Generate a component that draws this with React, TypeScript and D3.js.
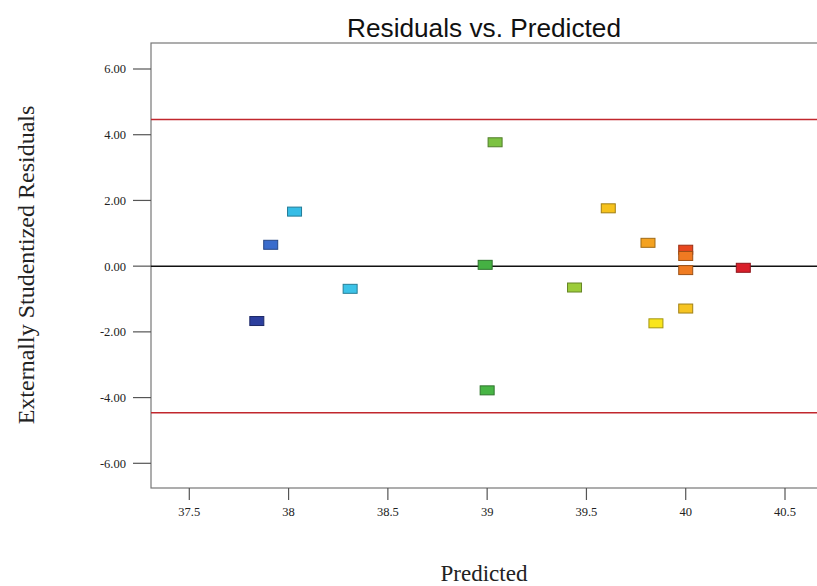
import React from "react";
import * as d3 from "d3";

// Predicted values and externally studentized residuals per run
const predicted = [37.84, 37.91, 38.03, 38.31, 39.04, 38.99, 39.0, 39.44, 39.61, 39.81, 40.0, 40.0, 40.0, 40.0, 39.85, 40.29];
const residuals = [-1.67, 0.65, 1.66, -0.69, 3.77, 0.04, -3.78, -0.65, 1.76, 0.71, 0.5, 0.31, -0.12, -1.29, -1.74, -0.05];
const pointColors = [
  "#2c3f9e", "#3a6ccc", "#36bde6", "#3cc3e8", "#7cc242", "#45b143", "#48b545", "#9ccc3a",
  "#f6c21c", "#f4a221", "#e8471e", "#f07a22", "#f07c22", "#f6c422", "#f9e51c", "#d91f2a",
];

const yTicks = [-6, -4, -2, 0, 2, 4, 6];
const xTicks = [37.5, 38, 38.5, 39, 39.5, 40, 40.5];
const limitValue = 4.46;

const W = 817;
const H = 586;
const plot = { left: 151, top: 43, right: 835, bottom: 488 };

// two decimals with an ASCII hyphen for negatives
const fmtY = (v: number) => d3.format(".2f")(v).replace("\u2212", "-");

export default function App() {
  const x = d3.scaleLinear().domain([37.5, 40.5]).range([189.3, 785]);
  const y = d3.scaleLinear().domain([-6, 6]).range([463.3, 69]);
  const serif = "'Liberation Serif', 'Times New Roman', serif";
  const sans = "'Liberation Sans', Arial, sans-serif";
  const mw = 14;
  const mh = 9;

  const strokeOf = (c: string) => d3.color(c)!.darker(1.2).formatHex();

  return (
    <svg
      width={W}
      height={H}
      style={{ position: "absolute", left: 0, top: 0, background: "#fff" }}
    >
      <rect x={0} y={0} width={W} height={H} fill="#fff" />
      <text
        x={484}
        y={37}
        textAnchor="middle"
        fontFamily={sans}
        fontSize={25}
        textLength={274}
        lengthAdjust="spacingAndGlyphs"
        fill="#111"
      >
        Residuals vs. Predicted
      </text>

      {/* plot frame */}
      <rect
        x={plot.left}
        y={plot.top}
        width={plot.right - plot.left}
        height={plot.bottom - plot.top}
        fill="#fff"
        stroke="#777"
        strokeWidth={1.2}
      />

      {/* y axis ticks */}
      {yTicks.map((t) => (
        <g key={"y" + t}>
          <line x1={plot.left - 18} x2={plot.left} y1={y(t)} y2={y(t)} stroke="#555" strokeWidth={1.2} />
          <text
            x={plot.left - 25}
            y={y(t)}
            dy="0.35em"
            textAnchor="end"
            fontFamily={serif}
            fontSize={12.5}
            fill="#222"
          >
            {fmtY(t)}
          </text>
        </g>
      ))}

      {/* x axis ticks */}
      {xTicks.map((t) => (
        <g key={"x" + t}>
          <line x1={x(t)} x2={x(t)} y1={plot.bottom} y2={plot.bottom + 12} stroke="#555" strokeWidth={1.2} />
          <text x={x(t)} y={plot.bottom + 28} textAnchor="middle" fontFamily={serif} fontSize={12.5} fill="#222">
            {String(t)}
          </text>
        </g>
      ))}

      {/* limit lines and zero line */}
      {[limitValue, -limitValue].map((v) => (
        <line key={"lim" + v} x1={plot.left} x2={plot.right} y1={y(v)} y2={y(v)} stroke="#c1272d" strokeWidth={1.5} />
      ))}
      <line x1={plot.left} x2={plot.right} y1={y(0)} y2={y(0)} stroke="#111" strokeWidth={1.5} />

      {/* residual markers */}
      {predicted.map((p, i) => (
        <rect
          key={"pt" + i}
          x={x(p) - mw / 2}
          y={y(residuals[i]) - mh / 2}
          width={mw}
          height={mh}
          fill={pointColors[i]}
          stroke={strokeOf(pointColors[i])}
          strokeWidth={1}
        />
      ))}

      <text
        transform={`translate(34, 265) rotate(-90)`}
        textAnchor="middle"
        fontFamily={serif}
        fontSize={24}
        fill="#222"
      >
        Externally Studentized Residuals
      </text>
      <text x={484} y={581} textAnchor="middle" fontFamily={serif} fontSize={23} fill="#222">
        Predicted
      </text>
    </svg>
  );
}
